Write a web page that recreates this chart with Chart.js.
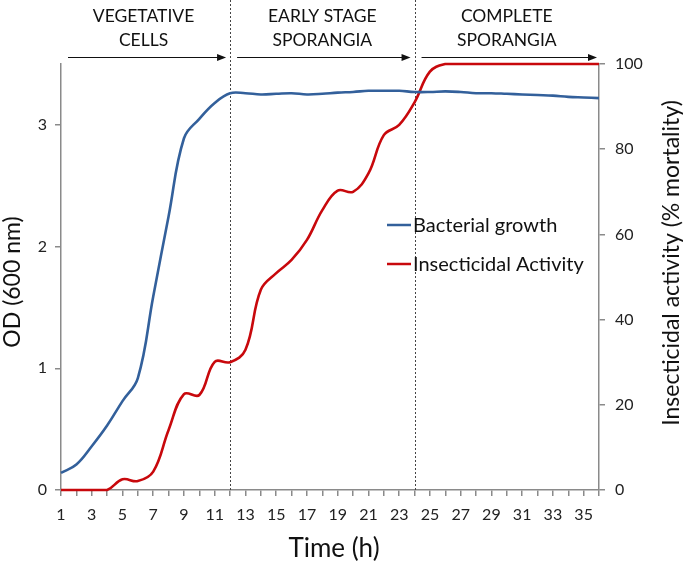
<!DOCTYPE html>
<html>
<head>
<meta charset="utf-8">
<script src="https://cdn.jsdelivr.net/npm/chart.js@4/dist/chart.umd.min.js"></script>
<style>
  html, body { margin: 0; padding: 0; background: #fff; }
  #wrap { width: 685px; height: 563px; position: relative; }
</style>
</head>
<body>
<div id="wrap"><canvas id="c" width="685" height="563"></canvas></div>
<script>
// ---- data ----
const hours = [1,2,3,4,5,6,7,8,9,10,11,12,13,14,15,16,17,18,19,20,21,22,23,24,25,26,27,28,29,30,31,32,33,34,35,36];
const odValues = [0.14,0.21,0.36,0.53,0.73,0.92,1.59,2.25,2.89,3.05,3.18,3.26,3.26,3.25,3.255,3.26,3.25,3.255,3.265,3.27,3.28,3.28,3.28,3.27,3.27,3.275,3.27,3.26,3.26,3.255,3.25,3.245,3.24,3.23,3.225,3.22];
const mortality = [0,0,0,0,2.5,2.1,4.3,14.1,22.5,22.3,30.1,30,32.9,47,50.9,54,58.7,65.7,70.3,70,74.3,83.3,85.7,91,98.2,100,100,100,100,100,100,100,100,100,100,100];
const seriesNames = ['Bacterial growth', 'Insecticidal Activity'];
const odTicks = [0,1,2,3];
const mortalityTicks = [0,20,40,60,80,100];
const phaseBoundaries = [12, 24];
const phaseLabels = [['VEGETATIVE','CELLS'], ['EARLY STAGE','SPORANGIA'], ['COMPLETE','SPORANGIA']];
const axisTitles = { x: 'Time (h)', yLeft: 'OD (600 nm)', yRight: 'Insecticidal activity (% mortality)' };

const FONT = 'Lato, "Open Sans", sans-serif';
Chart.defaults.font.family = FONT;
Chart.defaults.color = '#222';
const AXIS = '#8a8a8a';

const annotations = {
  id: 'annotations',
  beforeDatasetsDraw(chart) {
    const ctx = chart.ctx, x = chart.scales.x, ca = chart.chartArea;
    ctx.save();
    ctx.strokeStyle = '#444';
    ctx.lineWidth = 1;
    ctx.setLineDash([2, 2]);
    phaseBoundaries.forEach(h => {
      const px = Math.round(x.getPixelForValue(hours.indexOf(h))) + 0.5;
      ctx.beginPath(); ctx.moveTo(px, 0); ctx.lineTo(px, ca.bottom); ctx.stroke();
    });
    ctx.restore();
  },
  afterDraw(chart) {
    const ctx = chart.ctx, x = chart.scales.x, ca = chart.chartArea;
    ctx.save();
    // phase texts & arrows
    const bounds = [ca.left, ...phaseBoundaries.map(h => x.getPixelForValue(hours.indexOf(h))), ca.right];
    ctx.fillStyle = '#111';
    ctx.font = '17.5px ' + FONT;
    ctx.textAlign = 'center';
    ctx.textBaseline = 'middle';
    const arrowY = 57.5;
    for (let i = 0; i < phaseLabels.length; i++) {
      const a = bounds[i], b = bounds[i + 1];
      const cx = (a + b) / 2 + (i === 0 ? -2 : 0);
      ctx.fillText(phaseLabels[i][0], cx, 16);
      ctx.fillText(phaseLabels[i][1], cx, 40);
      const x0 = a + 7, x1 = (i === phaseLabels.length - 1) ? b - 2 : b - 4;
      ctx.strokeStyle = '#111'; ctx.lineWidth = 1.2; ctx.setLineDash([]);
      ctx.beginPath(); ctx.moveTo(x0, arrowY); ctx.lineTo(x1 - 7, arrowY); ctx.stroke();
      ctx.beginPath(); ctx.moveTo(x1, arrowY); ctx.lineTo(x1 - 9, arrowY - 3.5); ctx.lineTo(x1 - 9, arrowY + 3.5); ctx.closePath(); ctx.fill();
    }
    // legend
    ctx.textAlign = 'left';
    ctx.font = '20px ' + FONT;
    const legY = [225, 264];
    chart.data.datasets.forEach((ds, i) => {
      ctx.strokeStyle = ds.borderColor; ctx.lineWidth = 2.5;
      ctx.beginPath(); ctx.moveTo(387, legY[i]); ctx.lineTo(411, legY[i]); ctx.stroke();
      ctx.fillStyle = '#111';
      ctx.fillText(ds.label, 413, legY[i] + 1);
    });
    // axis titles
    ctx.font = '26px ' + FONT;
    ctx.textAlign = 'center';
    ctx.fillText(axisTitles.x, 334, 549);
    ctx.font = '23px ' + FONT;
    ctx.save(); ctx.translate(13, 282); ctx.rotate(-Math.PI / 2); ctx.fillText(axisTitles.yLeft, 0, 0); ctx.restore();
    ctx.save(); ctx.translate(672, 263); ctx.rotate(-Math.PI / 2); ctx.fillText(axisTitles.yRight, 0, 0); ctx.restore();
    ctx.restore();
  }
};

new Chart(document.getElementById('c'), {
  type: 'line',
  data: {
    labels: hours,
    datasets: [
      { label: seriesNames[0], data: odValues, yAxisID: 'yL', borderColor: '#33609b', borderWidth: 2.6, pointRadius: 0, tension: 0.4, fill: false, clip: 4 },
      { label: seriesNames[1], data: mortality, yAxisID: 'yR', borderColor: '#c8080c', borderWidth: 2.6, pointRadius: 0, tension: 0.4, fill: false, clip: 4 }
    ]
  },
  options: {
    responsive: false,
    animation: false,
    devicePixelRatio: 1,
    layout: { padding: { top: 64, left: 0, right: 0, bottom: 0 } },
    plugins: { legend: { display: false }, tooltip: { enabled: false } },
    scales: {
      x: {
        type: 'category',
        offset: false,
        grid: { display: true, drawOnChartArea: false, drawTicks: true, tickLength: 6, color: AXIS, lineWidth: 1.5 },
        border: { display: true, color: AXIS, width: 1.5 },
        ticks: {
          autoSkip: false, maxRotation: 0, padding: 9,
          font: { size: 16 }, color: '#222',
          callback: function(v, i) { return (hours[i] % 2 === 1) ? String(hours[i]) : ''; }
        },
        afterFit: s => { s.height = 73; }
      },
      yL: {
        type: 'linear', position: 'left', min: 0, max: 3.5,
        afterBuildTicks: s => { s.ticks = odTicks.map(v => ({ value: v })); },
        grid: { drawOnChartArea: false, drawTicks: true, tickLength: 6, color: AXIS, lineWidth: 1.5 },
        border: { display: true, color: AXIS, width: 1.5 },
        ticks: { font: { size: 16 }, color: '#222', padding: 8, callback: v => String(v) },
        afterFit: s => { s.width = 61; }
      },
      yR: {
        type: 'linear', position: 'right', min: 0, max: 100,
        afterBuildTicks: s => { s.ticks = mortalityTicks.map(v => ({ value: v })); },
        grid: { drawOnChartArea: false, drawTicks: true, tickLength: 6, color: AXIS, lineWidth: 1.5 },
        border: { display: true, color: AXIS, width: 1.5 },
        ticks: { font: { size: 16 }, color: '#222', padding: 10, callback: v => String(v) },
        afterFit: s => { s.width = 86; }
      }
    }
  },
  plugins: [annotations]
});
</script>
</body>
</html>
